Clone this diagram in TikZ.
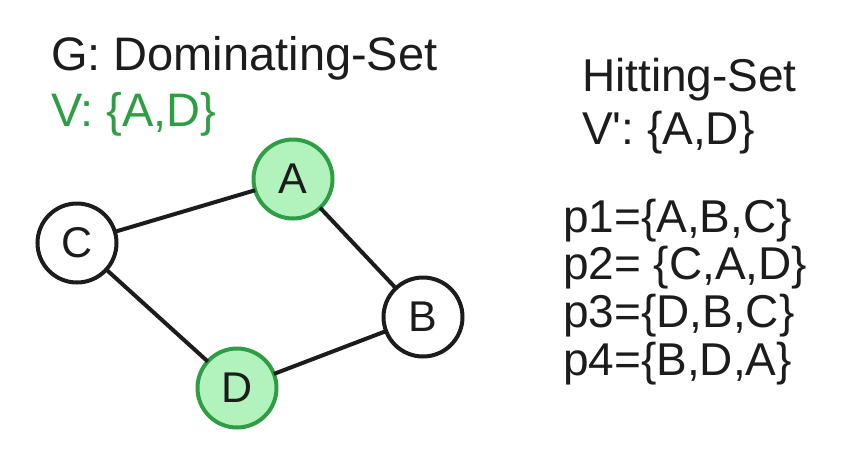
\documentclass[tikz,border=0pt]{standalone}
\usepackage{fontspec}
\setmainfont{Liberation Sans}
\usetikzlibrary{positioning}
\definecolor{domgreen}{RGB}{46,158,68}
\definecolor{domfill}{RGB}{178,242,188}
\definecolor{inkdark}{RGB}{28,28,28}

\begin{document}
\begin{tikzpicture}[x=1pt,y=-1pt,every node/.style={outer sep=0pt},
 vertex/.style={circle,draw=inkdark,line width=4pt,fill=white,minimum size=79pt,
 inner sep=0pt,text=inkdark,font=\fontsize{43}{43}\selectfont},
 chosen/.style={vertex,draw=domgreen,fill=domfill},
 edge/.style={draw=inkdark,line width=4pt},
 txt/.style={anchor=base west,inner sep=0pt,text=inkdark,font=\fontsize{46}{46}\selectfont}]

  \useasboundingbox (0,0) rectangle (850,469);

  \node[txt,font=\fontsize{47}{47}\selectfont] (title) at (51,70) {G: Dominating-Set};
  \node[txt,text=domgreen,font=\fontsize{47}{47}\selectfont] (sol) at (51,126) {V: \{A,D\}};

  \node[chosen] (A) at (293,179) {A};
  \node[vertex] (C) at (77,243) {C};
  \node[vertex] (B) at (423,317) {B};
  \node[chosen] (D) at (237,388) {D};

  \draw[edge] (C) -- (A);
  \draw[edge] (A) -- (B);
  \draw[edge] (C) -- (D);
  \draw[edge] (D) -- (B);

  \node[txt] (hs) at (582,91) {Hitting-Set};
  \node[txt] (hsol) at (582,144) {V\textquotesingle: \{A,D\}};

  \foreach \i/\s/\y in {1/{=\{A,B,C\}}/232,2/{= \{C,A,D\}}/279,
   3/{=\{D,B,C\}}/327,4/{=\{B,D,A\}}/375}
  {\node[txt] (p\i) at (563,\y) {p\i\s};}

\end{tikzpicture}
\end{document}
